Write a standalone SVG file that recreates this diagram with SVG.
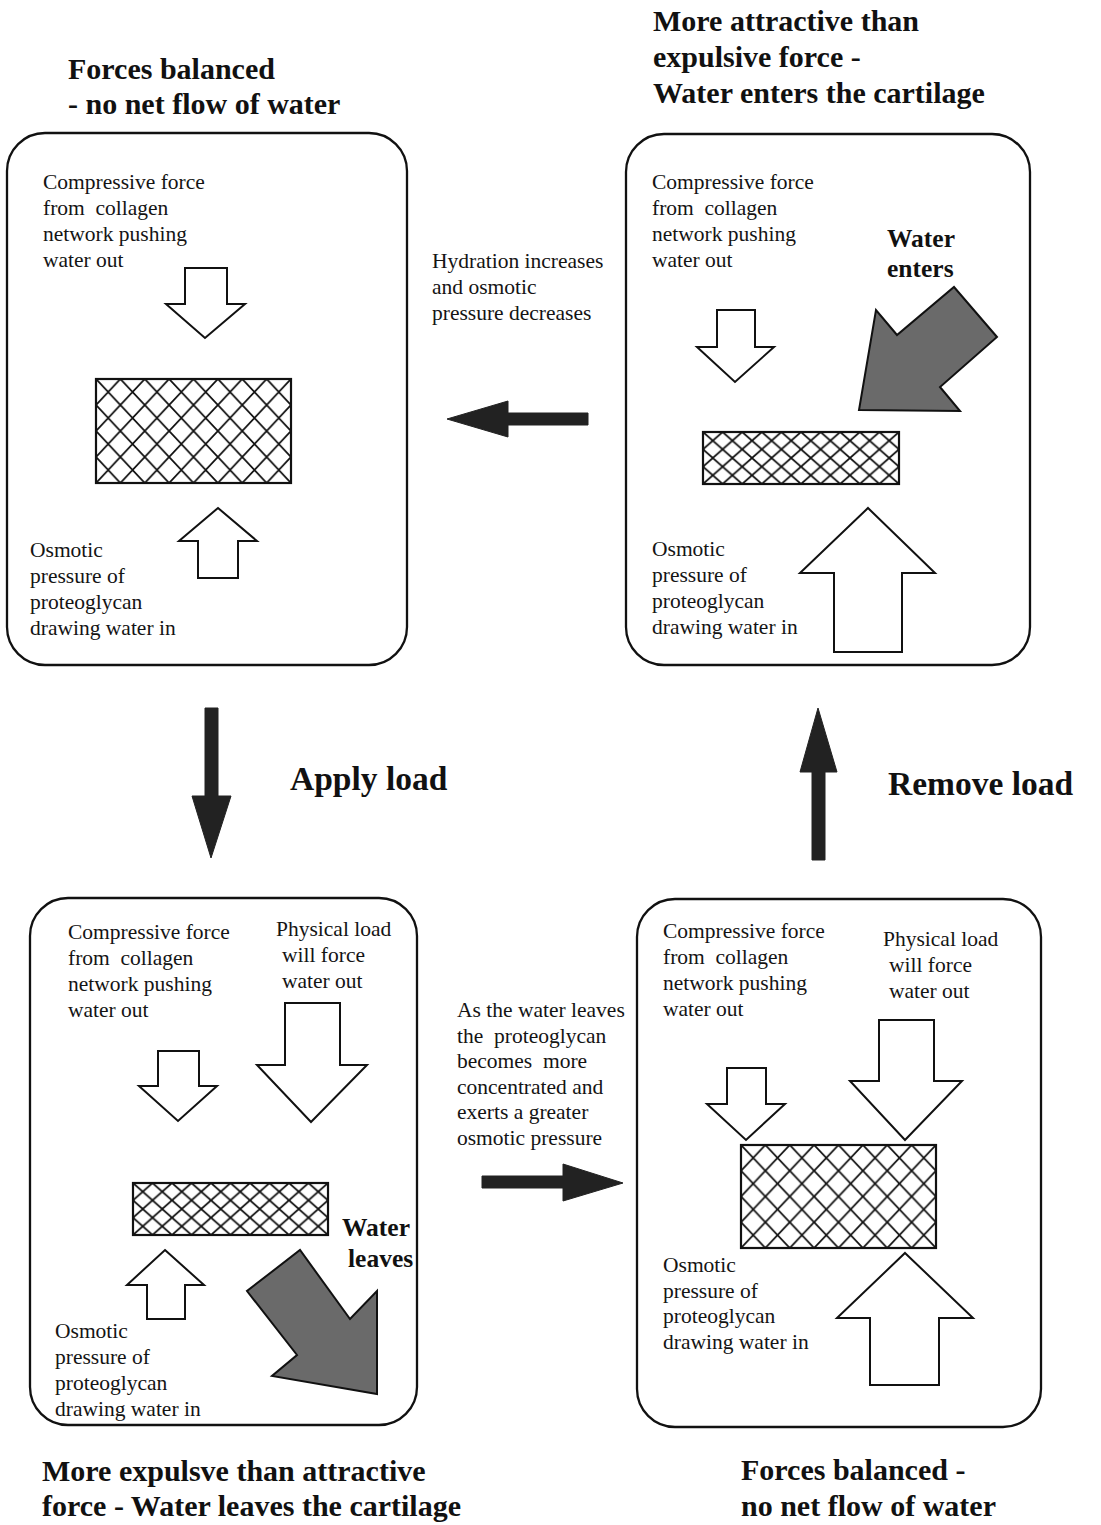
<svg xmlns="http://www.w3.org/2000/svg" width="1101" height="1525" viewBox="0 0 1101 1525">
<style>
.box{fill:none;stroke:#111;stroke-width:2.3}
.lbl{font-family:"Liberation Serif","Times New Roman",serif;font-size:21.5px;fill:#141414;white-space:pre}
.title{font-family:"Liberation Serif","Times New Roman",serif;font-size:30px;font-weight:bold;fill:#111;white-space:pre}
.big{font-family:"Liberation Serif","Times New Roman",serif;font-size:33.5px;font-weight:bold;fill:#111}
.wat{font-family:"Liberation Serif","Times New Roman",serif;font-size:25.5px;font-weight:bold;fill:#111}
.warr{fill:#fff;stroke:#111;stroke-width:2;stroke-linejoin:miter}
.garr{fill:#6a6a6a;stroke:#111;stroke-width:2}
.conn{fill:#222;stroke:#222;stroke-width:1}
.hl{stroke:#111;stroke-width:1.8;fill:none}
.mesh{stroke:#111;stroke-width:2.2}
</style>
<defs>
<pattern id="hA1" x="96" y="379" width="24.375" height="26" patternUnits="userSpaceOnUse"><path class="hl" d="M0 0L24.375 26M24.375 0L0 26"/></pattern>
<pattern id="hA4" x="741" y="1145" width="24.375" height="25.75" patternUnits="userSpaceOnUse"><path class="hl" d="M0 0L24.375 25.75M24.375 0L0 25.75"/></pattern>
<pattern id="hB2" x="703" y="432" width="19.6" height="17.33" patternUnits="userSpaceOnUse"><path class="hl" d="M0 0L19.6 17.33M19.6 0L0 17.33"/></pattern>
<pattern id="hB3" x="133" y="1183" width="19.5" height="17.33" patternUnits="userSpaceOnUse"><path class="hl" d="M0 0L19.5 17.33M19.5 0L0 17.33"/></pattern>
</defs>
<rect width="1101" height="1525" fill="#fff"/>

<g id="title-top-left">
<text class="title" x="68" y="79">Forces balanced</text>
<text class="title" x="68" y="114">- no net flow of water</text>
</g>
<g id="title-top-right">
<text class="title" x="653" y="31">More attractive than</text>
<text class="title" x="653" y="67">expulsive force -</text>
<text class="title" x="653" y="103">Water enters the cartilage</text>
</g>
<g id="title-bottom-left">
<text class="title" x="42" y="1481">More expulsve than attractive</text>
<text class="title" x="42" y="1516">force - Water leaves the cartilage</text>
</g>
<g id="title-bottom-right">
<text class="title" x="741" y="1480">Forces balanced -</text>
<text class="title" x="741" y="1516">no net flow of water</text>
</g>

<g id="node-balanced-top">
<rect class="box" x="7" y="133" width="400" height="532" rx="38"/>
<text class="lbl" x="43" y="189">Compressive force</text>
<text class="lbl" x="43" y="215">from  collagen</text>
<text class="lbl" x="43" y="241">network pushing</text>
<text class="lbl" x="43" y="267">water out</text>
<polygon class="warr" points="185,268 227,268 227,304 245,304 205,338 166,304 185,304"/>
<rect class="mesh" x="96" y="379" width="195" height="104" fill="url(#hA1)"/>
<polygon class="warr" points="218,508 257,541 238,541 238,578 198,578 198,541 179,541"/>
<text class="lbl" x="30" y="557">Osmotic</text>
<text class="lbl" x="30" y="583">pressure of</text>
<text class="lbl" x="30" y="609">proteoglycan</text>
<text class="lbl" x="30" y="635">drawing water in</text>
</g>

<g id="node-water-enters">
<rect class="box" x="626" y="134" width="404" height="531" rx="38"/>
<text class="lbl" x="652" y="189">Compressive force</text>
<text class="lbl" x="652" y="215">from  collagen</text>
<text class="lbl" x="652" y="241">network pushing</text>
<text class="lbl" x="652" y="267">water out</text>
<text class="wat" x="887" y="247">Water</text>
<text class="wat" x="887" y="277">enters</text>
<polygon class="warr" points="717,310 755,310 755,347 774,347 735,382 697,347 717,347"/>
<polygon class="garr" points="859,410 960,411 940,387 997,337 954,287 897,335 876,310"/>
<rect class="mesh" x="703" y="432" width="196" height="52" fill="url(#hB2)"/>
<polygon class="warr" points="868,508 935,573 902,573 902,652 834,652 834,573 800,573"/>
<text class="lbl" x="652" y="556">Osmotic</text>
<text class="lbl" x="652" y="582">pressure of</text>
<text class="lbl" x="652" y="608">proteoglycan</text>
<text class="lbl" x="652" y="634">drawing water in</text>
</g>

<g id="node-water-leaves">
<rect class="box" x="30" y="898" width="387" height="527" rx="38"/>
<text class="lbl" x="68" y="939">Compressive force</text>
<text class="lbl" x="68" y="965">from  collagen</text>
<text class="lbl" x="68" y="991">network pushing</text>
<text class="lbl" x="68" y="1017">water out</text>
<text class="lbl" x="276" y="936">Physical load</text>
<text class="lbl" x="282" y="962">will force</text>
<text class="lbl" x="282" y="988">water out</text>
<polygon class="warr" points="158,1051 199,1051 199,1086 217,1086 178,1121 139,1086 158,1086"/>
<polygon class="warr" points="285,1003 340,1003 340,1065 367,1065 311,1122 257,1065 285,1065"/>
<rect class="mesh" x="133" y="1183" width="195" height="52" fill="url(#hB3)"/>
<text class="wat" x="342" y="1236">Water</text>
<text class="wat" x="348" y="1267">leaves</text>
<polygon class="warr" points="165,1250 204,1285 185,1285 185,1319 147,1319 147,1285 127,1285"/>
<polygon class="garr" points="377,1394 377,1291 350,1319 300,1250 247,1291 297,1355 272,1376"/>
<text class="lbl" x="55" y="1338">Osmotic</text>
<text class="lbl" x="55" y="1364">pressure of</text>
<text class="lbl" x="55" y="1390">proteoglycan</text>
<text class="lbl" x="55" y="1416">drawing water in</text>
</g>

<g id="node-balanced-bottom">
<rect class="box" x="637" y="899" width="404" height="528" rx="38"/>
<text class="lbl" x="663" y="938">Compressive force</text>
<text class="lbl" x="663" y="964">from  collagen</text>
<text class="lbl" x="663" y="990">network pushing</text>
<text class="lbl" x="663" y="1016">water out</text>
<text class="lbl" x="883" y="946">Physical load</text>
<text class="lbl" x="889" y="972">will force</text>
<text class="lbl" x="889" y="998">water out</text>
<polygon class="warr" points="727,1068 766,1068 766,1104 785,1104 746,1140 707,1104 727,1104"/>
<polygon class="warr" points="879,1020 934,1020 934,1081 962,1081 905,1140 850,1081 879,1081"/>
<rect class="mesh" x="741" y="1145" width="195" height="103" fill="url(#hA4)"/>
<polygon class="warr" points="905,1253 973,1318 939,1318 939,1385 870,1385 870,1318 837,1318"/>
<text class="lbl" x="663" y="1272">Osmotic</text>
<text class="lbl" x="663" y="1298">pressure of</text>
<text class="lbl" x="663" y="1323">proteoglycan</text>
<text class="lbl" x="663" y="1349">drawing water in</text>
</g>

<g id="connectors">
<g id="conn-hydration">
<polygon class="conn" points="447,419 508,401 508,413 588,413 588,425 508,425 508,437"/>
<text class="lbl" x="432" y="268">Hydration increases</text>
<text class="lbl" x="432" y="294">and osmotic</text>
<text class="lbl" x="432" y="320">pressure decreases</text>
</g>
<g id="conn-apply-load">
<polygon class="conn" points="205,708 218,708 218,796 231,796 211,858 192,796 205,796"/>
<text class="big" x="290" y="790">Apply load</text>
</g>
<g id="conn-remove-load">
<polygon class="conn" points="818,708 837,772 825,772 825,860 812,860 812,772 800,772"/>
<text class="big" x="888" y="795">Remove load</text>
</g>
<g id="conn-water-leaves">
<polygon class="conn" points="482,1176 563,1176 563,1164 623,1183 563,1201 563,1188 482,1188"/>
<text class="lbl" x="457" y="1017">As the water leaves</text>
<text class="lbl" x="457" y="1043">the  proteoglycan</text>
<text class="lbl" x="457" y="1068">becomes  more</text>
<text class="lbl" x="457" y="1094">concentrated and</text>
<text class="lbl" x="457" y="1119">exerts a greater</text>
<text class="lbl" x="457" y="1145">osmotic pressure</text>
</g>
</g>
</svg>
